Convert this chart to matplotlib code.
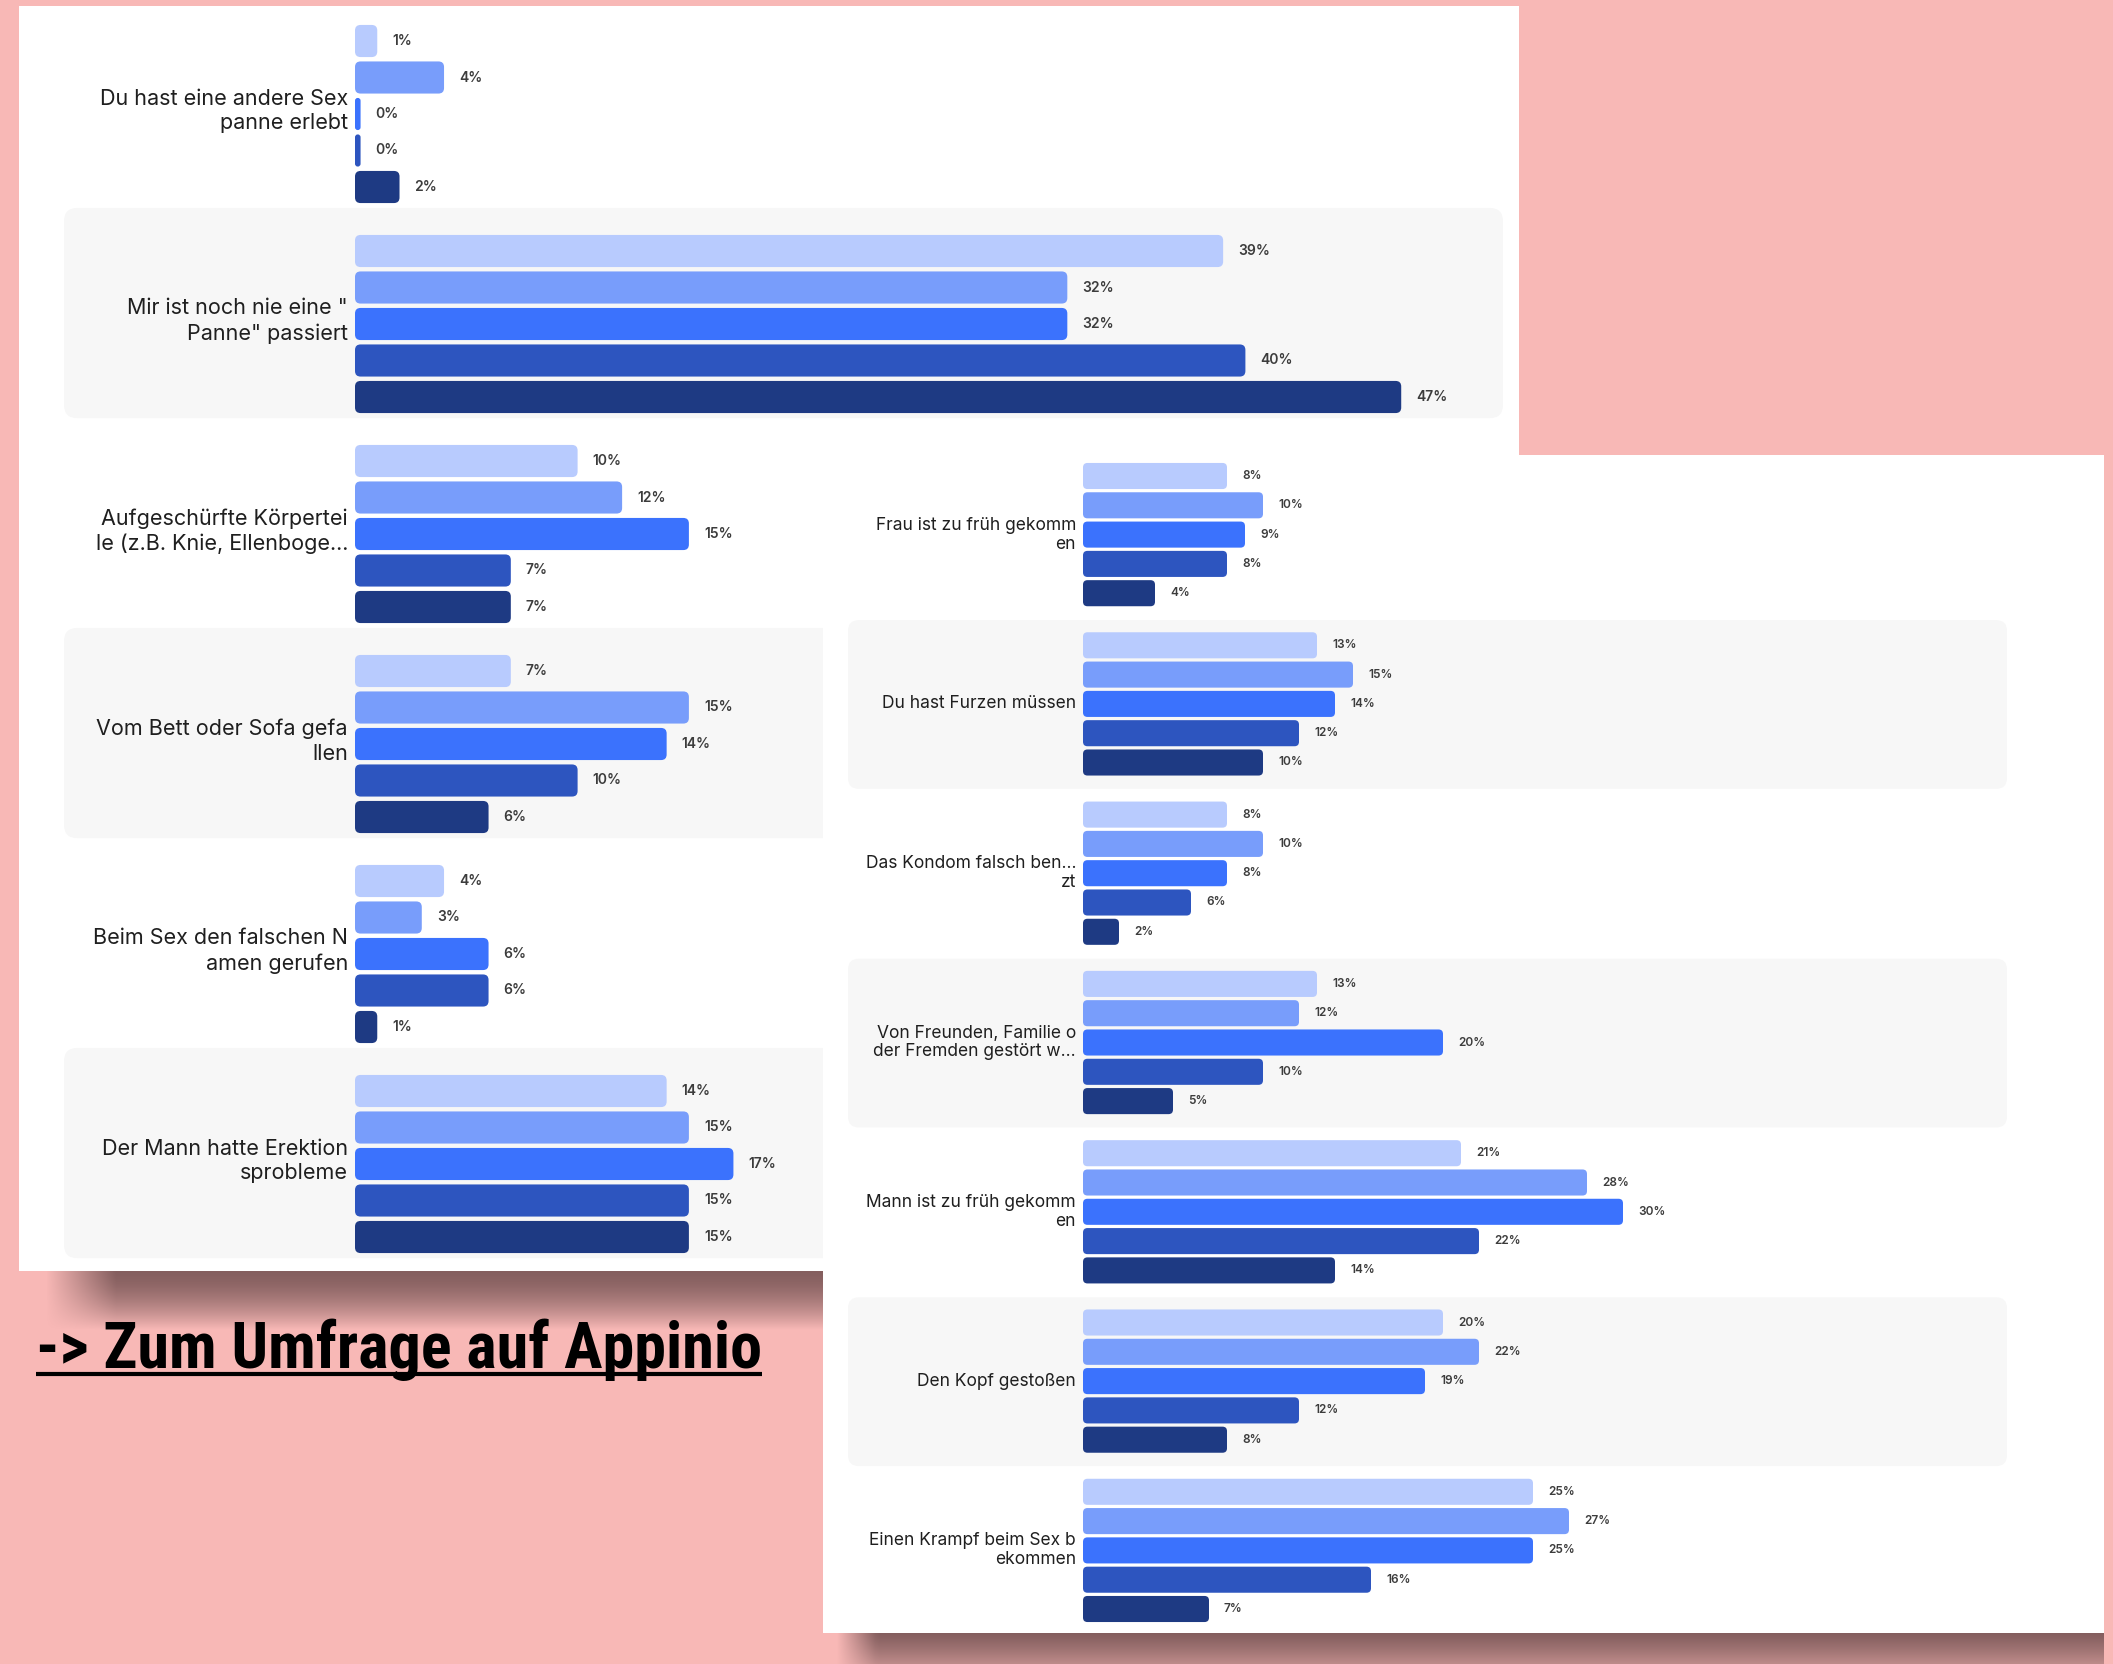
import numpy as np
import matplotlib.pyplot as plt
from matplotlib import font_manager as fm
from matplotlib.patches import FancyBboxPatch

W, H = 2113, 1664
PINK = '#f8b8b6'
BAND = '#f7f7f7'
colors = ['#b8cbfe', '#789dfb', '#3b72fd', '#2d55bf', '#1e3a83']

# left screenshot
left_labels = ['Du hast eine andere Sex\npanne erlebt',
               'Mir ist noch nie eine "\nPanne" passiert',
               'Aufgeschürfte Körpertei\nle (z.B. Knie, Ellenboge...',
               'Vom Bett oder Sofa gefa\nllen',
               'Beim Sex den falschen N\namen gerufen',
               'Der Mann hatte Erektion\nsprobleme']
left_s1 = [1, 39, 10, 7, 4, 14]
left_s2 = [4, 32, 12, 15, 3, 15]
left_s3 = [0, 32, 15, 14, 6, 17]
left_s4 = [0, 40, 7, 10, 6, 15]
left_s5 = [2, 47, 7, 6, 1, 15]

# right screenshot
right_labels = ['Frau ist zu früh gekomm\nen',
                'Du hast Furzen müssen',
                'Das Kondom falsch ben...\nzt',
                'Von Freunden, Familie o\nder Fremden gestört w...',
                'Mann ist zu früh gekomm\nen',
                'Den Kopf gestoßen',
                'Einen Krampf beim Sex b\nekommen']
right_s1 = [8, 13, 8, 13, 21, 20, 25]
right_s2 = [10, 15, 10, 12, 28, 22, 27]
right_s3 = [9, 14, 8, 20, 30, 19, 25]
right_s4 = [8, 12, 6, 10, 22, 12, 16]
right_s5 = [4, 10, 2, 5, 14, 8, 7]

plt.rcParams['font.family'] = ['Inter', 'DejaVu Sans']

# narrow bold face for the link, if one is around
installed = {f.name for f in fm.fontManager.ttflist}
link_font = next((f for f in ['Roboto Condensed', 'Liberation Sans Narrow', 'Open Sans Condensed',
                              'Noto Sans Condensed', 'Lato', 'Roboto'] if f in installed), 'DejaVu Sans')

fig = plt.figure(figsize=(W / 100, H / 100), dpi=100, facecolor=PINK)

# background layer in pixel coords (shadows + link)
bg = fig.add_axes([0, 0, 1, 1], zorder=0)
bg.set_facecolor(PINK)
bg.axis('off')


def shadow(x0, x1, y0, y1, a_top, a_bot, fade_left=40, power=2.0):
    ny, nx = 80, 300
    t = np.linspace(0, 1, ny)[:, None]
    alpha = a_top + (a_bot - a_top) * t ** power
    xs = np.linspace(x0, x1, nx)[None, :]
    alpha = alpha * np.clip((xs - x0) / fade_left, 0, 1)
    img = np.zeros((ny, nx, 4))
    img[..., 0], img[..., 1], img[..., 2] = 0.52, 0.37, 0.37
    img[..., 3] = alpha
    bg.imshow(img, extent=(x0, x1, y1, y0), aspect='auto', interpolation='bilinear')


shadow(45, 823, 1271, 1330, 1.0, 0.0, fade_left=70, power=1.6)
shadow(835, 2104, 1633, 1664, 1.0, 0.5, fade_left=40, power=1.2)
bg.set_xlim(0, W)
bg.set_ylim(H, 0)


def round_bars(ax, bars, asp, r=0.25):
    for b in bars:
        x, y = b.get_xy()
        w, h = b.get_width(), b.get_height()
        rr = min(r, w / 2)
        p = FancyBboxPatch((x, y), w, h, boxstyle=f'round,pad=0,rounding_size={rr}',
                           mutation_aspect=asp, fc=b.get_facecolor(), ec='none', zorder=2)
        b.remove()
        ax.add_patch(p)


def panel(box, bar_x0, px_pct, first_y, bar_pitch, group_pitch, bar_h, labels, series,
          band_x, band_pad, lab_size, val_size, lab_dy, lab_ls, z):
    x0, y0, x1, y1 = box
    ax = fig.add_axes([x0 / W, 1 - y1 / H, (x1 - x0) / W, (y1 - y0) / H], zorder=z)
    ax.set_facecolor('white')
    for s in ax.spines.values():
        s.set_visible(False)
    ax.set_xticks([])
    ax.set_yticks([])
    ax.set_xlim((x0 - bar_x0) / px_pct, (x1 - bar_x0) / px_pct)
    ax.set_ylim((y1 - first_y) / bar_pitch, (y0 - first_y) / bar_pitch)
    asp = px_pct / bar_pitch
    centers = np.arange(len(labels)) * group_pitch / bar_pitch

    bx0 = (band_x[0] - bar_x0) / px_pct
    bx1 = (band_x[1] - bar_x0) / px_pct
    for c in centers[1::2]:
        ax.add_patch(FancyBboxPatch((bx0, c + band_pad[0]), bx1 - bx0, band_pad[1] - band_pad[0],
                                    boxstyle='round,pad=0,rounding_size=0.6',
                                    mutation_aspect=asp, fc=BAND, ec='none', zorder=0))

    for k, vals in enumerate(series):
        vals = np.asarray(vals)
        bars = ax.barh(centers + k, np.maximum(vals, 0.25), height=bar_h, color=colors[k])
        for y, v, b in zip(centers + k, vals, bars):
            ax.text(b.get_width() + 15 / px_pct, y, f'{v}%', fontsize=val_size,
                    color='#3c3c3c', va='center', ha='left', fontweight='semibold')
        round_bars(ax, bars, asp)

    for c, lab in zip(centers, labels):
        ax.text(-7 / px_pct, c + lab_dy, lab, fontsize=lab_size, color='#1f1f1f',
                ha='right', va='center', multialignment='right', linespacing=lab_ls)
    return ax


panel((19, 6, 1519, 1271), 355, 22.26, 41, 36.5, 210, 0.88, left_labels,
      [left_s1, left_s2, left_s3, left_s4, left_s5],
      (64, 1503), (-1.18, 4.58), 15.5, 10, 1.92, 1.3, 1)

panel((823, 455, 2104, 1633), 1083, 18.0, 476, 29.3, 169.3, 0.89, right_labels,
      [right_s1, right_s2, right_s3, right_s4, right_s5],
      (848, 2007), (-0.86, 4.9), 12.5, 8.5, 2.0, 1.15, 2)

# link text
link = bg.text(36, 1368, '-> Zum Umfrage auf Appinio', fontsize=40, fontweight='bold',
               family=[link_font, 'DejaVu Sans'], color='black', va='baseline')
fig.canvas.draw()
bb = link.get_window_extent()
link.set_fontsize(40 * 726 / bb.width)
bg.plot([36, 762], [1374, 1374], color='black', lw=3, solid_capstyle='butt')

fig.savefig('out.png', dpi=100, facecolor=PINK)
